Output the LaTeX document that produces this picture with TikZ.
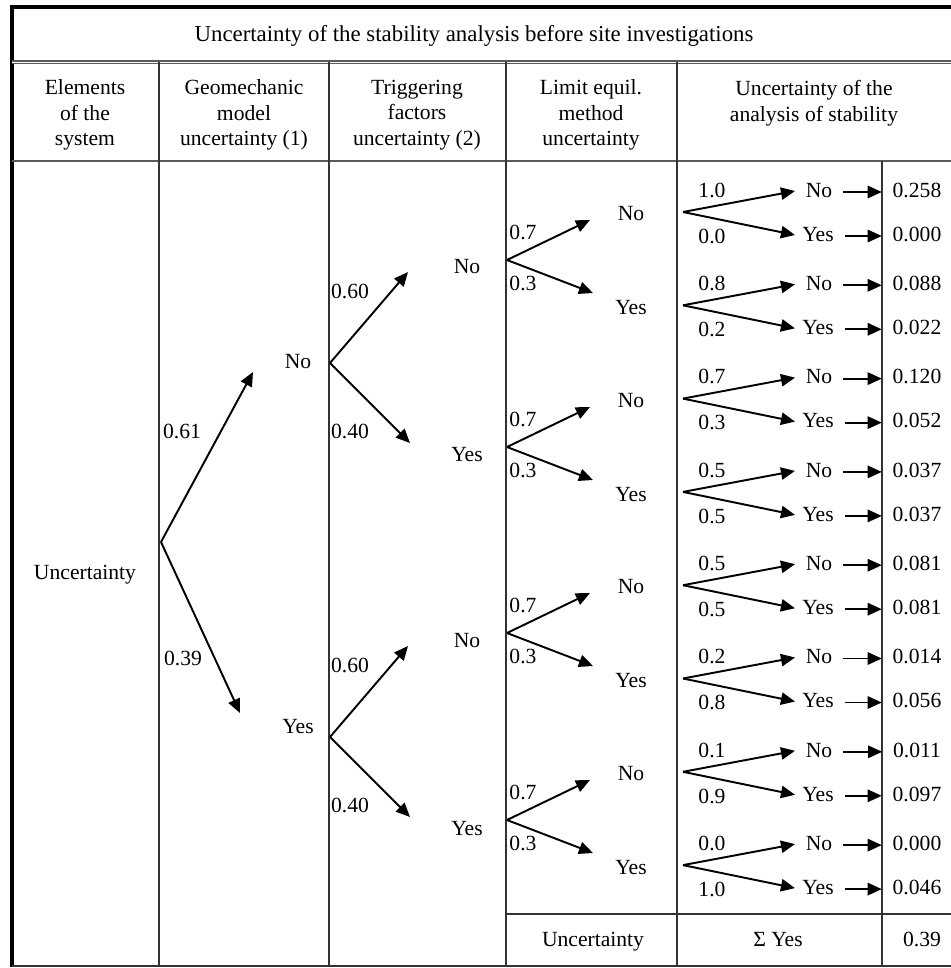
\documentclass[tikz,border=0pt]{standalone}
\usepackage{fontspec}
\setmainfont{Liberation Serif}
\usetikzlibrary{arrows.meta}

\tikzset{
  arr/.style={-{Triangle[length=8pt,width=7pt]}, line width=1.1pt},
  txt/.style={font=\fontsize{12.3}{14.6}\selectfont, inner sep=1pt, text height=1.6ex, text depth=0.3ex},
  head/.style={font=\fontsize{12.3}{14.6}\selectfont, align=center, inner sep=1pt},
  grid/.style={line width=0.8pt, black!80},
}

\begin{document}
\begin{tikzpicture}[x=0.02cm, y=-0.02cm]
    \useasboundingbox (0,0) rectangle (951,968);

    % Рамка и сетка таблицы
    \draw[line width=2.3pt] (12,967) -- (12,7) -- (951,7);
    \draw[line width=0.7pt, gray!70!black, double=white, double distance=0.5pt] (12,62) -- (951,62);
    \draw[line width=1.4pt, gray!70!black] (12,161) -- (951,161);
    \foreach \x in {159,329,506,677}
        \draw[grid] (\x,62) -- (\x,967);
    \draw[grid] (882,161) -- (882,967);
    \draw[grid] (506,914) -- (951,914);
    \draw[grid] (12,966) -- (951,966);

    % Заголовки
    \node[head, font=\fontsize{13}{15}\selectfont] (title) at (474,36) {Uncertainty of the stability analysis before site investigations};
    \node[head] (hSys) at (85,115) {Elements\\of the\\system};
    \node[head] (hGeo) at (244,115) {Geomechanic\\model\\uncertainty (1)};
    \node[head] (hTrig) at (417,115) {Triggering\\factors\\uncertainty (2)};
    \node[head] (hLim) at (591,115) {Limit equil.\\method\\uncertainty};
    \node[head] (hAn) at (814,103) {Uncertainty of the\\analysis of stability};

    % Первый уровень дерева
    \node[txt] (sys) at (85,574) {Uncertainty};
    \coordinate (geoRoot) at (161,542);
    \coordinate (geoUp) at (253,372);
    \coordinate (geoDown) at (240,713);
    \draw[arr] (geoRoot) -- (geoUp);
    \draw[arr] (geoRoot) -- (geoDown);
    \node[txt] (pGeoNo) at (182,433) {0.61};
    \node[txt] (pGeoYes) at (183,660) {0.39};
    \node[txt] (geoNo) at (298,363) {No};
    \node[txt] (geoYes) at (298,728) {Yes};

    % Факторы
    \foreach \y [count=\i] in {363,737} {
        \coordinate (trRoot\i) at (330,\y);
        \coordinate (trUp\i) at (408,{\y-91});
        \coordinate (trDown\i) at (410,{\y+80});
        \draw[arr] (trRoot\i) -- (trUp\i);
        \draw[arr] (trRoot\i) -- (trDown\i);
        \node[txt] (pTrNo\i) at (350,{\y-70}) {0.60};
        \node[txt] (pTrYes\i) at (350,{\y+70}) {0.40};
        \node[txt] (trNo\i) at (467,{\y-95}) {No};
        \node[txt] (trYes\i) at (467,{\y+93}) {Yes};
    }

    % Метод предельного равновесия
    \foreach \y [count=\i] in {260,447,633,820} {
        \coordinate (limRoot\i) at (507,\y);
        \coordinate (limUp\i) at (590,{\y-40});
        \coordinate (limDown\i) at (593,{\y+33});
        \draw[arr] (limRoot\i) -- (limUp\i);
        \draw[arr] (limRoot\i) -- (limDown\i);
        \node[txt] (pLimNo\i) at (523,{\y-26}) {0.7};
        \node[txt] (pLimYes\i) at (523,{\y+25}) {0.3};
        \node[txt] (limNo\i) at (631,{\y-45}) {No};
        \node[txt] (limYes\i) at (631,{\y+49}) {Yes};
    }

    % Итоговая неопределённость
    \foreach \p/\q/\a/\b [count=\k from 0] in {1.0/0.0/0.258/0.000, 0.8/0.2/0.088/0.022,
            0.7/0.3/0.120/0.052, 0.5/0.5/0.037/0.037, 0.5/0.5/0.081/0.081,
            0.2/0.8/0.014/0.056, 0.1/0.9/0.011/0.097, 0.0/1.0/0.000/0.046} {
        \pgfmathsetmacro{\r}{212+93.3*\k}
        \coordinate (anRoot\k) at (683,\r);
        \coordinate (anUp\k) at (795,{\r-21});
        \coordinate (anDown\k) at (795,{\r+23});
        \draw[arr] (anRoot\k) -- (anUp\k);
        \draw[arr] (anRoot\k) -- (anDown\k);
        \node[txt] (pAnNo\k) at (712,{\r-20}) {\p};
        \node[txt] (pAnYes\k) at (712,{\r+26}) {\q};
        \node[txt] (anNo\k) at (819,{\r-20}) {No};
        \node[txt] (anYes\k) at (818,{\r+24}) {Yes};
        \node[txt] (vNo\k) at (917,{\r-20}) {\a};
        \node[txt] (vYes\k) at (917,{\r+24}) {\b};
        \draw[arr, shorten <=5pt, shorten >=5pt] (anNo\k) -- (vNo\k);
        \draw[arr, shorten <=5pt, shorten >=5pt] (anYes\k) -- (vYes\k);
    }

    % Нижняя строка
    \node[txt] (uLast) at (593,941) {Uncertainty};
    \node[txt] (sumYes) at (778,941) {Σ Yes};
    \node[txt] (sumVal) at (922,941) {0.39};
\end{tikzpicture}
\end{document}
